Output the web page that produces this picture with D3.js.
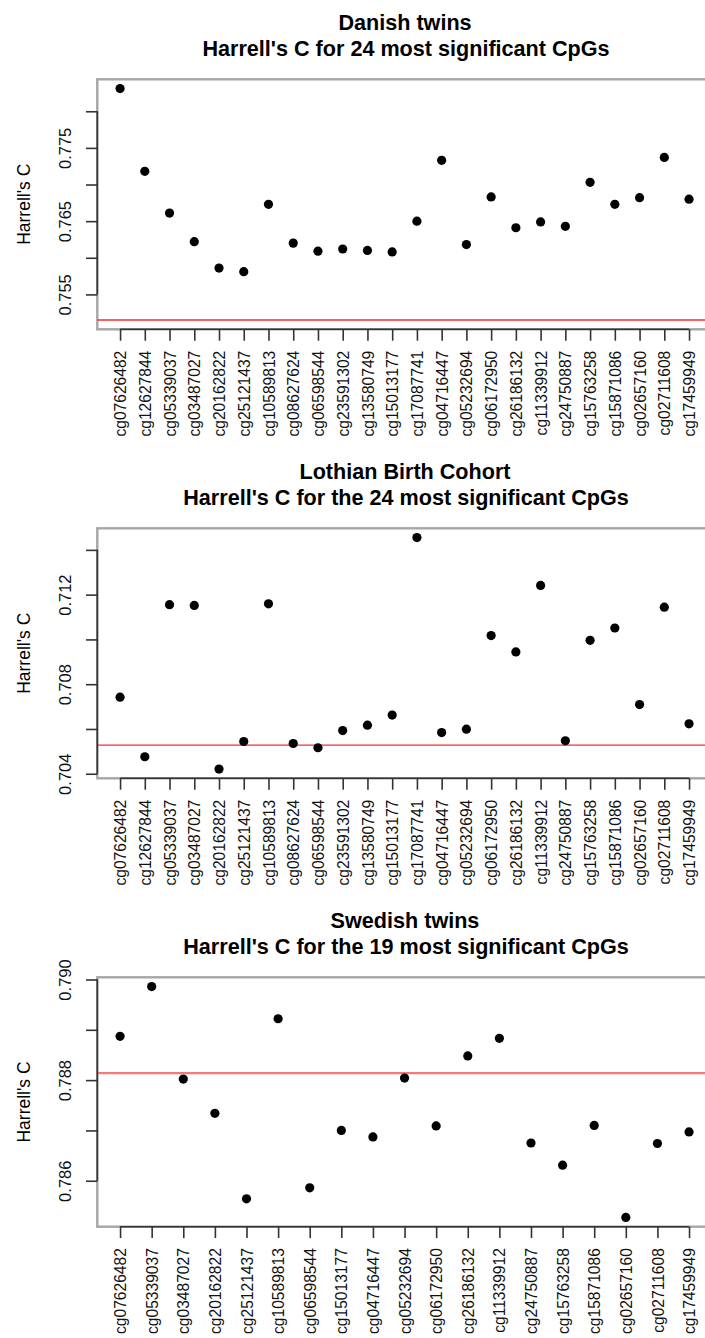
<!DOCTYPE html>
<html>
<head>
<meta charset="utf-8">
<script src="https://cdn.jsdelivr.net/npm/d3@7"></script>
<style>
  body { margin: 0; background: #fff; }
  svg { display: block; font-family: "Liberation Sans", Arial, Helvetica, sans-serif; }
</style>
</head>
<body>
<svg id="chart" width="705" height="1338"></svg>
<script>
// CpG names (x categories)
const cpgs24 = ['cg07626482', 'cg12627844', 'cg05339037', 'cg03487027', 'cg20162822',
  'cg25121437', 'cg10589813', 'cg08627624', 'cg06598544', 'cg23591302', 'cg13580749',
  'cg15013177', 'cg17087741', 'cg04716447', 'cg05232694', 'cg06172950', 'cg26186132',
  'cg11339912', 'cg24750887', 'cg15763258', 'cg15871086', 'cg02657160', 'cg02711608',
  'cg17459949'];
const cpgs19 = ['cg07626482', 'cg05339037', 'cg03487027', 'cg20162822', 'cg25121437',
  'cg10589813', 'cg06598544', 'cg15013177', 'cg04716447', 'cg05232694', 'cg06172950',
  'cg26186132', 'cg11339912', 'cg24750887', 'cg15763258', 'cg15871086', 'cg02657160',
  'cg02711608', 'cg17459949'];

// Harrell's C per CpG
const danishC = [0.7831, 0.7718, 0.7661, 0.7622, 0.7586, 0.7581, 0.7673, 0.7620,
  0.7609, 0.7612, 0.7610, 0.7608, 0.7650, 0.7733, 0.7618, 0.7683, 0.7641, 0.7649,
  0.7643, 0.7703, 0.7673, 0.7682, 0.7737, 0.7680];
const lothianC = [0.70742, 0.70476, 0.71155, 0.71152, 0.70421, 0.70544, 0.71159,
  0.70535, 0.70516, 0.70593, 0.70617, 0.70662, 0.71455, 0.70584, 0.70599, 0.71017,
  0.70944, 0.71241, 0.70547, 0.70996, 0.71051, 0.70709, 0.71144, 0.70623];
const swedishC = [0.78887, 0.78986, 0.78802, 0.78734, 0.78564, 0.78922, 0.78586,
  0.78700, 0.78687, 0.78804, 0.78709, 0.78848, 0.78883, 0.78675, 0.78631, 0.78710,
  0.78527, 0.78674, 0.78697];

// reference lines (red)
const baselines = [0.7515, 0.70528, 0.78814];

// y ticks and which ones get a label
const yTicks = [
  [0.755, 0.760, 0.765, 0.770, 0.775, 0.780],
  [0.704, 0.706, 0.708, 0.710, 0.712, 0.714],
  [0.786, 0.787, 0.788, 0.789, 0.790]
];
const yTickLabels = [
  ['0.755', '0.765', '0.775'],
  ['0.704', '0.708', '0.712'],
  ['0.786', '0.788', '0.790']
];

const titles = [
  ['Danish twins', "Harrell's C for 24 most significant CpGs"],
  ['Lothian Birth Cohort', "Harrell's C for the 24 most significant CpGs"],
  ['Swedish twins', "Harrell's C for the 19 most significant CpGs"]
];

const panels = [
  { names: cpgs24, values: danishC, top: 79.3, h: 250, red: '#ff2a2a', redW: 1.4 },
  { names: cpgs24, values: lothianC, top: 528.3, h: 250, red: '#ff2a2a', redW: 1.4 },
  { names: cpgs19, values: swedishC, top: 977.3, h: 249.4, red: '#f47a7a', redW: 2.2 }
];

const svg = d3.select('#chart');
const left = 97.3, right = 711.8;
const axisCol = '#333';

panels.forEach((p, k) => {
  const n = p.names.length;
  const g = svg.append('g').attr('transform', `translate(${left},${p.top})`);
  const w = right - left;

  // R style 4% padding
  const xScale = d3.scaleLinear()
    .domain([1 - 0.04 * (n - 1), n + 0.04 * (n - 1)])
    .range([0, w]);
  const ext = d3.extent(p.values.concat([baselines[k]]));
  const pad = (ext[1] - ext[0]) * 0.04;
  const yScale = d3.scaleLinear()
    .domain([ext[0] - pad, ext[1] + pad])
    .range([p.h, 0]);

  // titles
  svg.append('text')
    .attr('x', 405).attr('y', p.top - 49.8)
    .attr('text-anchor', 'middle')
    .attr('font-weight', 'bold').attr('font-size', '21.6px')
    .text(titles[k][0]);
  svg.append('text')
    .attr('x', 406).attr('y', p.top - 23.2)
    .attr('text-anchor', 'middle')
    .attr('font-weight', 'bold').attr('font-size', '21.6px')
    .text(titles[k][1]);

  // box
  g.append('rect')
    .attr('width', w).attr('height', p.h)
    .attr('fill', 'none').attr('stroke', '#a6a6a6').attr('stroke-width', 2.4);

  // red line
  g.append('line')
    .attr('x1', 0).attr('x2', w)
    .attr('y1', yScale(baselines[k])).attr('y2', yScale(baselines[k]))
    .attr('stroke', p.red).attr('stroke-width', p.redW);

  // y axis
  const yAxis = g.append('g').call(
    d3.axisLeft(yScale)
      .tickValues(yTicks[k])
      .tickSize(11.3).tickSizeOuter(0)
      .tickFormat((d) => {
        const s = d3.format('.3f')(d);
        return yTickLabels[k].includes(s) ? s : '';
      })
  );
  yAxis.select('.domain').remove();
  yAxis.append('line')
    .attr('x1', 0).attr('x2', 0)
    .attr('y1', yScale(yTicks[k][0])).attr('y2', yScale(yTicks[k][yTicks[k].length - 1]))
    .attr('stroke', axisCol).attr('stroke-width', 1.6);
  yAxis.selectAll('.tick line').attr('stroke', axisCol).attr('stroke-width', 1.6);
  yAxis.selectAll('.tick text')
    .attr('x', null).attr('dy', null)
    .attr('transform', 'translate(-26.2,0) rotate(-90)')
    .attr('text-anchor', 'middle')
    .attr('fill', '#111')
    .attr('font-family', '"Liberation Sans", Arial, sans-serif')
    .attr('font-size', '16.5px');

  // x axis
  const xAxis = g.append('g')
    .attr('transform', `translate(0,${p.h})`)
    .call(
      d3.axisBottom(xScale)
        .tickValues(d3.range(1, n + 1))
        .tickSize(11.4).tickSizeOuter(0)
        .tickFormat((i) => p.names[i - 1])
    );
  xAxis.select('.domain').remove();
  xAxis.append('line')
    .attr('x1', xScale(1)).attr('x2', xScale(n))
    .attr('y1', 0).attr('y2', 0)
    .attr('stroke', axisCol).attr('stroke-width', 1.6);
  xAxis.selectAll('.tick line').attr('stroke', axisCol).attr('stroke-width', 1.6);
  xAxis.selectAll('.tick text')
    .attr('y', null).attr('dy', null)
    .attr('transform', 'translate(5.6,21.4) rotate(-90)')
    .attr('text-anchor', 'end')
    .attr('fill', '#111')
    .attr('font-family', '"Liberation Sans", Arial, sans-serif')
    .attr('font-size', '15.6px');

  // y title
  g.append('text')
    .attr('transform', `translate(${30 - left},${p.h / 2}) rotate(-90)`)
    .attr('text-anchor', 'middle')
    .attr('font-size', '17.5px')
    .text("Harrell's C");

  // points
  g.append('g').selectAll('circle')
    .data(p.values)
    .join('circle')
    .attr('cx', (d, i) => xScale(i + 1))
    .attr('cy', (d) => yScale(d))
    .attr('r', 4.6)
    .attr('fill', '#000');
});
</script>
</body>
</html>
